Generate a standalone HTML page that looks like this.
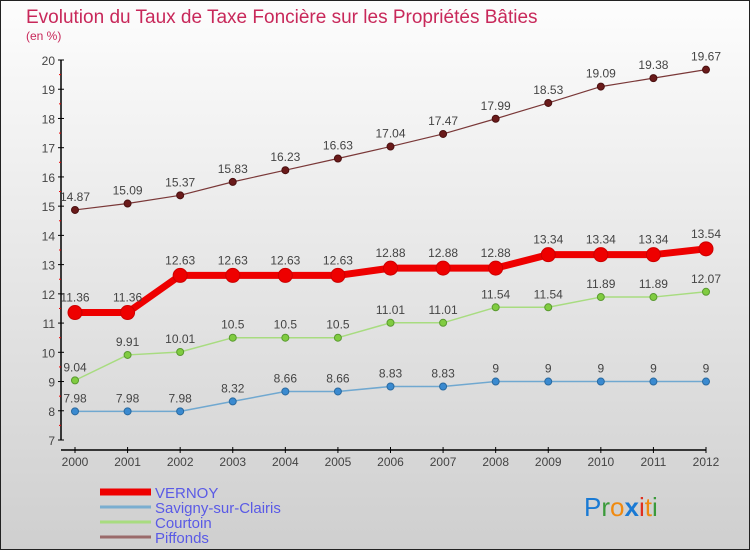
<!DOCTYPE html>
<html><head><meta charset="utf-8"><style>
html,body{margin:0;padding:0}
body{width:750px;height:550px;overflow:hidden}
svg text{font-family:"Liberation Sans",sans-serif}
</style></head><body>
<svg id="chart" width="750" height="550" xmlns="http://www.w3.org/2000/svg">
<defs>
<linearGradient id="bg" x1="0" y1="0" x2="0" y2="1"><stop offset="0" stop-color="#fdfdfd"/><stop offset="1" stop-color="#cfcfcf"/></linearGradient>
</defs>
<rect x="0.5" y="0.5" width="749" height="549" fill="url(#bg)" stroke="#222"/>
<text x="26" y="23" font-size="19" fill="#c8285a">Evolution du Taux de Taxe Foncière sur les Propriétés Bâties</text>
<text x="26" y="40" font-size="12" fill="#c8285a">(en %)</text>
<g id="axes"></g>
<g id="series"></g>
<g id="legend"></g>
<text x="584" y="516" font-size="26" font-family="Liberation Sans,sans-serif"><tspan fill="#1a7ad4">P</tspan><tspan fill="#3a9a3a">r</tspan><tspan fill="#f08a10">o</tspan><tspan fill="#1a7ad4" font-weight="bold">x</tspan><tspan fill="#e03020">i</tspan><tspan fill="#f08a10">t</tspan><tspan fill="#3a9a3a">i</tspan></text>
</svg>
<script>
const years = [2000,2001,2002,2003,2004,2005,2006,2007,2008,2009,2010,2011,2012];
const vernoy = [11.36,11.36,12.63,12.63,12.63,12.63,12.88,12.88,12.88,13.34,13.34,13.34,13.54];
const savigny = [7.98,7.98,7.98,8.32,8.66,8.66,8.83,8.83,9,9,9,9,9];
const courtoin = [9.04,9.91,10.01,10.5,10.5,10.5,11.01,11.01,11.54,11.54,11.89,11.89,12.07];
const piffonds = [14.87,15.09,15.37,15.83,16.23,16.63,17.04,17.47,17.99,18.53,19.09,19.38,19.67];
const yTicks = [7,8,9,10,11,12,13,14,15,16,17,18,19,20];
const seriesNames = ['VERNOY','Savigny-sur-Clairis','Courtoin','Piffonds'];

const NS='http://www.w3.org/2000/svg';
const yMin=7,yMax=20,yTop=60,yBot=440,x0=75,x1=706;
function xs(i){return x0+(x1-x0)*i/(years.length-1);}
function ys(v){return yBot-(v-yMin)/(yMax-yMin)*(yBot-yTop);}
function mk(tag,attrs,parent){const e=document.createElementNS(NS,tag);for(const k in attrs)e.setAttribute(k,attrs[k]);parent.appendChild(e);return e;}
function fmt(v){return String(v);}

const axes=document.getElementById('axes');
let e=mk('line',{x1:61,y1:yTop,x2:61,y2:yBot,stroke:'#000','stroke-width':1.5},axes);


e=mk('line',{x1:61,y1:450,x2:x1,y2:450,stroke:'#000','stroke-width':1.5},axes);


yTicks.forEach((t,i)=>{
  const y=ys(t);
  mk('line',{x1:58,y1:y,x2:64,y2:y,stroke:'#000'},axes);
  const tx=mk('text',{x:55,y:y+5,'text-anchor':'end','font-size':12,fill:'#444'},axes);
  tx.textContent=t;
  
  
  if(i<yTicks.length-1){const ym=ys(t+0.5);mk('line',{x1:59,y1:ym,x2:61,y2:ym,stroke:'#e00'},axes);}
});
years.forEach((yr,i)=>{
  const x=xs(i);
  mk('line',{x1:x,y1:447,x2:x,y2:453,stroke:'#000'},axes);
  const tx=mk('text',{x:x,y:466,'text-anchor':'middle','font-size':12,fill:'#444'},axes);
  tx.textContent=yr;
  
  
});

const sg=document.getElementById('series');
function drawSeries(vals,name,color,lw,r,dot,dotStroke,off){
  const g=mk('g',{},sg);
  
  
  const pts=vals.map((v,i)=>xs(i)+','+ys(v)).join(' ');
  const pl=mk('polyline',{points:pts,fill:'none',stroke:color,'stroke-width':lw,'stroke-linejoin':'round'},g);
  
  
  vals.forEach((v,i)=>{
    const c=mk('circle',{cx:xs(i),cy:ys(v),r:r,fill:dot,stroke:dotStroke,'stroke-width':1},g);
    
    
    const t=mk('text',{x:xs(i),y:ys(v)-off,'text-anchor':'middle','font-size':12,fill:'#444'},g);
    t.textContent=fmt(v);
    
    
  });
}
drawSeries(piffonds,'piffonds','#7a3838',1.2,3.5,'#6a1a1a','#4a1010',9);
drawSeries(courtoin,'courtoin','#a8dc80',1.5,3.5,'#80cc40','#5a9a30',9);
drawSeries(savigny,'savigny','#70a8d0',1.5,3.5,'#3a8ad0','#2a6aa0',9);
drawSeries(vernoy,'vernoy','#ee0000',7,7,'#ee0000','#cc0000',11);

const lg=document.getElementById('legend');
const lcol=['#ee0000','#7aaed0','#a8dc80','#9a6a6a'];
const lw=[7,3,3,3];
seriesNames.forEach((n,i)=>{
  const y=492+i*15;
  const g=mk('g',{},lg);
  
  
  mk('line',{x1:100,y1:y,x2:151,y2:y,stroke:lcol[i],'stroke-width':lw[i]},g);
  const t=mk('text',{x:155,y:y+6,'font-size':15,fill:'#5a5ae6'},g);
  t.textContent=n;
});
</script>
</body></html>
